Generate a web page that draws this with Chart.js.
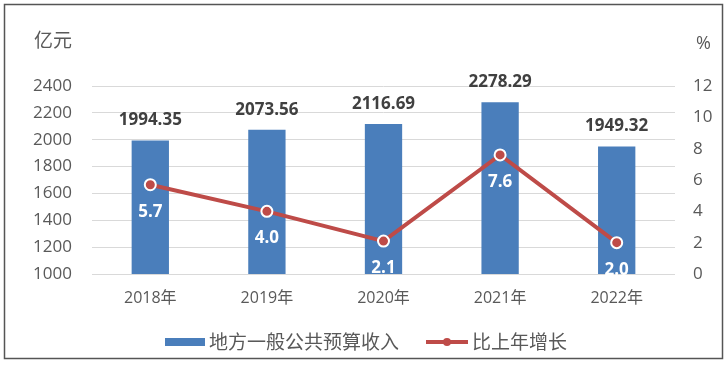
<!DOCTYPE html>
<html>
<head>
<meta charset="utf-8">
<script src="https://cdn.jsdelivr.net/npm/chart.js@4"></script>
<style>
  html, body { margin: 0; padding: 0; background: #fff; }
  #wrap { position: relative; width: 728px; height: 365px; }
  canvas { display: block; }
</style>
</head>
<body>
<div id="wrap"><canvas id="c" width="728" height="365"></canvas></div>
<script>
const categories = ['2018年', '2019年', '2020年', '2021年', '2022年'];
const revenue = [1994.35, 2073.56, 2116.69, 2278.29, 1949.32];
const growth = [5.7, 4.0, 2.1, 7.6, 2.0];
const leftTicks = [1000, 1200, 1400, 1600, 1800, 2000, 2200, 2400];
const rightTicks = [0, 2, 4, 6, 8, 10, 12];
const seriesNames = ['地方一般公共预算收入', '比上年增长'];
const leftUnit = '亿元';
const rightUnit = '%';

const FONT = "'Open Sans', 'Noto Sans CJK SC', sans-serif";
const CJK = "'Noto Sans CJK SC', sans-serif";
const BAR = '#4a7ebb';
const LINE = '#be4b48';
const TXT = '#595959';

const extras = {
  id: 'extras',
  afterDraw(chart) {
    const ctx = chart.ctx;
    ctx.save();
    // frame
    ctx.strokeStyle = '#555';
    ctx.lineWidth = 1.5;
    ctx.strokeRect(4.5, 4.5, 718, 354);
    // units
    ctx.fillStyle = TXT;
    ctx.font = "19px " + CJK;
    ctx.textBaseline = 'middle';
    ctx.textAlign = 'left';
    ctx.fillText(leftUnit, 34, 40);
    ctx.font = "18px " + FONT;
    ctx.fillText(rightUnit, 696, 44);
    // bar value labels
    const barMeta = chart.getDatasetMeta(0);
    ctx.textAlign = 'center';
    ctx.font = "bold 17px " + FONT;
    ctx.fillStyle = '#404040';
    barMeta.data.forEach((el, i) => {
      ctx.fillText(revenue[i].toFixed(2), el.x, el.y - 20);
    });
    // line value labels
    const lineMeta = chart.getDatasetMeta(1);
    ctx.fillStyle = '#ffffff';
    lineMeta.data.forEach((el, i) => {
      ctx.fillText(growth[i].toFixed(1), el.x, el.y + 27);
    });
    // legend
    const ly = 342;
    ctx.fillStyle = BAR;
    ctx.fillRect(165, ly - 4, 40, 8);
    ctx.fillStyle = TXT;
    ctx.textAlign = 'left';
    ctx.font = "19px " + CJK;
    ctx.fillText(seriesNames[0], 209, ly);
    ctx.strokeStyle = LINE;
    ctx.lineWidth = 4;
    ctx.beginPath();
    ctx.moveTo(426, ly);
    ctx.lineTo(468, ly);
    ctx.stroke();
    ctx.beginPath();
    ctx.arc(447, ly, 4, 0, Math.PI * 2);
    ctx.fillStyle = LINE;
    ctx.fill();
    ctx.fillStyle = TXT;
    ctx.fillText(seriesNames[1], 472, ly);
    ctx.restore();
  }
};

new Chart(document.getElementById('c'), {
  data: {
    labels: categories,
    datasets: [
      {
        type: 'bar',
        label: seriesNames[0],
        data: revenue,
        backgroundColor: BAR,
        yAxisID: 'y',
        barPercentage: 0.32,
        categoryPercentage: 1,
        order: 2
      },
      {
        type: 'line',
        label: seriesNames[1],
        data: growth,
        borderColor: LINE,
        borderWidth: 4,
        pointRadius: 5.5,
        pointBackgroundColor: LINE,
        pointBorderColor: '#ffffff',
        pointBorderWidth: 2,
        tension: 0,
        yAxisID: 'y1',
        order: 1
      }
    ]
  },
  options: {
    responsive: false,
    animation: false,
    devicePixelRatio: 1,
    layout: { padding: { top: 86, left: 0, right: 0, bottom: 0 } },
    plugins: { legend: { display: false }, tooltip: { enabled: false } },
    scales: {
      x: {
        grid: { display: false, drawTicks: false },
        border: { display: false },
        ticks: { color: TXT, font: { family: FONT, size: 16 }, padding: 15 },
        afterFit(s) { s.height = 91; }
      },
      y: {
        position: 'left',
        min: 1000, max: 2400,
        afterBuildTicks(s) { s.ticks = leftTicks.map(v => ({ value: v })); },
        grid: { color: '#d9d9d9', lineWidth: 1, drawTicks: false },
        border: { display: false },
        ticks: { color: TXT, font: { family: FONT, size: 17 }, padding: 20, callback: v => String(v) },
        afterFit(s) { s.width = 92; }
      },
      y1: {
        position: 'right',
        min: 0, max: 12,
        afterBuildTicks(s) { s.ticks = rightTicks.map(v => ({ value: v })); },
        grid: { display: false, drawTicks: false },
        border: { display: false },
        ticks: { color: TXT, font: { family: FONT, size: 17 }, padding: 18, callback: v => String(v) },
        afterFit(s) { s.width = 53; }
      }
    }
  },
  plugins: [extras]
});
</script>
</body>
</html>
